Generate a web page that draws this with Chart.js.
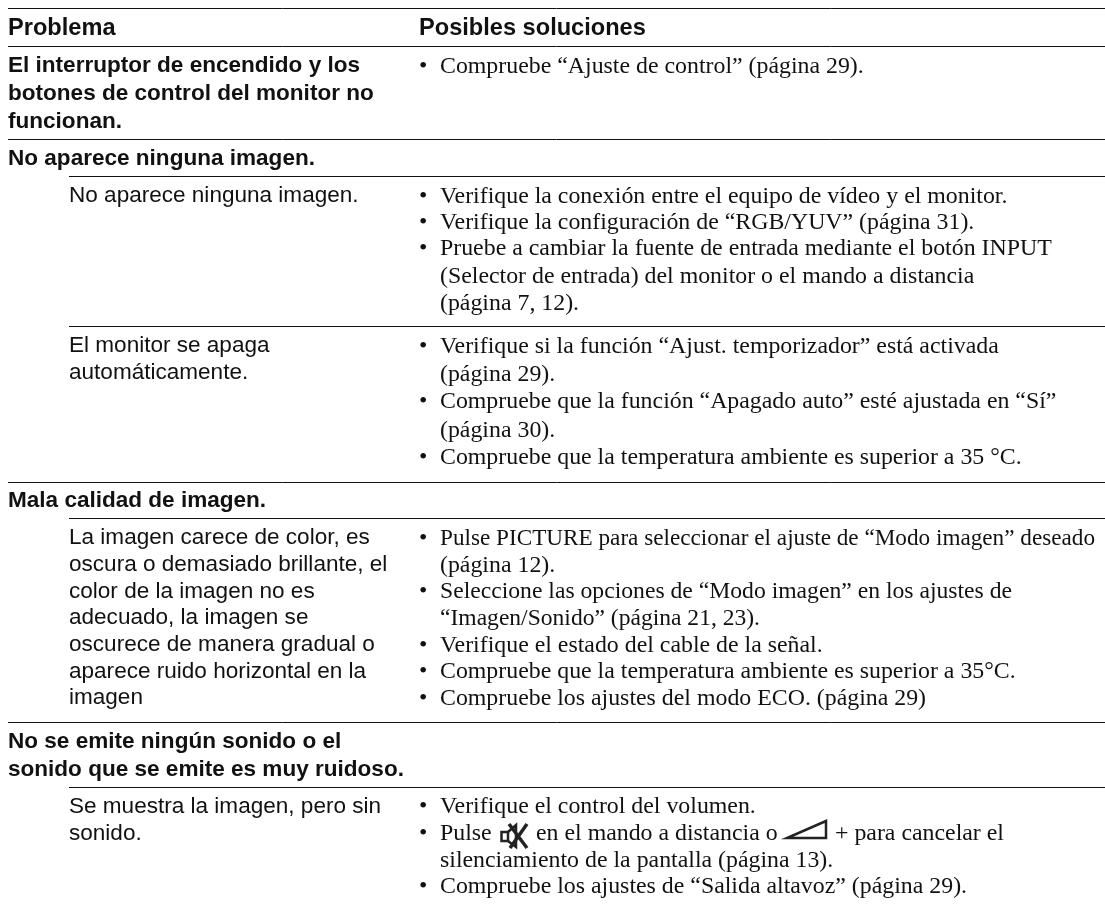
<!DOCTYPE html>
<html lang="es">
<head>
  <meta charset="UTF-8" />
  <title>Problema / Posibles soluciones</title>
  <script src="https://cdn.jsdelivr.net/npm/chart.js"></script>
  <style>
    body { margin: 0; background: #fff; }
    canvas { display: block; }
  </style>
</head>
<body>
  <canvas id="tableChart" width="1105" height="905"></canvas>

  <script>
    // columnas de la tabla
    const leftCol = 8;
    const subCol = 69;
    const bulletCol = 419;

    // reglas horizontales
    const fullRules = [8.5, 46.5, 139.5, 482.5, 722.5];
    const subRules = [176.5, 326.5, 518.5, 787.5];

    // cabecera
    const headTexts = ["Problema", "Posibles soluciones"];
    const headX = [leftCol, bulletCol];
    const headY = [35, 35];

    // problemas en negrita
    const boldTexts = ["El interruptor de encendido y los", "botones de control del monitor no", "funcionan.", "No aparece ninguna imagen.", "Mala calidad de imagen.", "No se emite ningún sonido o el", "sonido que se emite es muy ruidoso."];
    const boldY = [72, 100, 128, 165, 507, 748, 776];

    // sintomas
    const plainTexts = ["No aparece ninguna imagen.", "El monitor se apaga", "automáticamente.", "La imagen carece de color, es", "oscura o demasiado brillante, el", "color de la imagen no es", "adecuado, la imagen se", "oscurece de manera gradual o", "aparece ruido horizontal en la", "imagen", "Se muestra la imagen, pero sin", "sonido."];
    const plainY = [202, 352, 379, 544, 571, 598, 624, 651, 678, 704, 813, 840];

    // soluciones
    const solTexts = ["Compruebe “Ajuste de control” (página 29).", "Verifique la conexión entre el equipo de vídeo y el monitor.", "Verifique la configuración de “RGB/YUV” (página 31).", "Pruebe a cambiar la fuente de entrada mediante el botón INPUT", "(Selector de entrada) del monitor o el mando a distancia", "(página 7, 12).", "Verifique si la función “Ajust. temporizador” está activada", "(página 29).", "Compruebe que la función “Apagado auto” esté ajustada en “Sí”", "(página 30).", "Compruebe que la temperatura ambiente es superior a 35 °C.", "Pulse PICTURE para seleccionar el ajuste de “Modo imagen” deseado", "(página 12).", "Seleccione las opciones de “Modo imagen” en los ajustes de", "“Imagen/Sonido” (página 21, 23).", "Verifique el estado del cable de la señal.", "Compruebe que la temperatura ambiente es superior a 35°C.", "Compruebe los ajustes del modo ECO. (página 29)", "Verifique el control del volumen.", "Pulse", "en el mando a distancia o", "+ para cancelar el", "silenciamiento de la pantalla (página 13).", "Compruebe los ajustes de “Salida altavoz” (página 29)."];
    const solX = [440, 440, 440, 440, 440, 440, 440, 440, 440, 440, 440, 440, 440, 440, 440, 440, 440, 440, 440, 440, 536, 835, 440, 440];
    const solY = [73, 203, 229, 255, 283, 310, 353, 381, 408, 437, 464, 545, 572, 598, 625, 652, 678, 705, 813, 840, 840, 840, 867, 893];

    // lineas mas apretadas en el original
    const tightWidth = { 11: 655, 13: 572, 14: 320 };

    // vinetas
    const bulletY = [73, 203, 229, 255, 353, 408, 464, 545, 598, 652, 678, 705, 813, 840, 893];

    const headFont = "bold 23.6px 'Liberation Sans'";
    const boldFont = "bold 22.55px 'Liberation Sans'";
    const plainFont = "22.55px 'Liberation Sans'";
    const solFont = "23.85px 'Liberation Serif'";
    const inkColor = "#111111";

    function ruleDataset(y, start) {
      return {
        data: [{ x: start, y: y }, { x: 1105, y: y }],
        showLine: true,
        borderColor: inkColor,
        borderWidth: 1,
        pointRadius: 0
      };
    }

    const datasets = [
      ...fullRules.map(y => ruleDataset(y, leftCol)),
      ...subRules.map(y => ruleDataset(y, subCol))
    ];

    // escribe el texto de la tabla a traves de las escalas
    const tableText = {
      id: "tableText",
      afterDatasetsDraw(chart) {
        const { ctx, scales: { x, y } } = chart;

        function put(font, texts, xs, ys, widths) {
          ctx.font = font;
          texts.forEach((t, i) => {
            const px = x.getPixelForValue(xs[i]);
            const py = y.getPixelForValue(ys[i]);
            if (widths && widths[i]) ctx.fillText(t, px, py, widths[i]);
            else ctx.fillText(t, px, py);
          });
        }

        ctx.save();
        ctx.fillStyle = inkColor;
        ctx.textBaseline = "alphabetic";
        put(headFont, headTexts, headX, headY);
        put(boldFont, boldTexts, boldTexts.map(() => leftCol), boldY);
        put(plainFont, plainTexts, plainTexts.map(() => subCol), plainY);
        put(solFont, solTexts, solX, solY, tightWidth);
        put(solFont, bulletY.map(() => "•"), bulletY.map(() => bulletCol), bulletY);

        // icono de silencio
        const mx = x.getPixelForValue(500), my = y.getPixelForValue(840);
        ctx.strokeStyle = "#222222";
        ctx.lineWidth = 2.5;
        ctx.strokeRect(mx + 1.5, my - 8, 6.5, 9);
        ctx.beginPath();
        ctx.moveTo(mx + 8, my - 8);
        ctx.lineTo(mx + 16, my - 15);
        ctx.lineTo(mx + 16, my + 7);
        ctx.lineTo(mx + 8, my + 1);
        ctx.stroke();
        ctx.lineWidth = 3.5;
        ctx.beginPath();
        ctx.moveTo(mx + 9, my - 16);
        ctx.lineTo(mx + 27, my + 8);
        ctx.moveTo(mx + 27, my - 16);
        ctx.lineTo(mx + 10, my + 8);
        ctx.stroke();

        // icono de volumen
        const vx = x.getPixelForValue(787), vy = y.getPixelForValue(838);
        ctx.lineWidth = 2.5;
        ctx.beginPath();
        ctx.moveTo(vx, vy);
        ctx.lineTo(vx + 39, vy);
        ctx.lineTo(vx + 39, vy - 17);
        ctx.closePath();
        ctx.stroke();
        ctx.restore();
      }
    };

    new Chart(document.getElementById("tableChart"), {
      type: "scatter",
      data: { datasets: datasets },
      options: {
        responsive: false,
        animation: false,
        layout: { padding: 0 },
        plugins: { legend: { display: false }, tooltip: { enabled: false } },
        scales: {
          x: { type: "linear", min: 0, max: 1105, display: false },
          y: { type: "linear", min: 0, max: 905, reverse: true, display: false }
        }
      },
      plugins: [tableText]
    });
  </script>
</body>
</html>
